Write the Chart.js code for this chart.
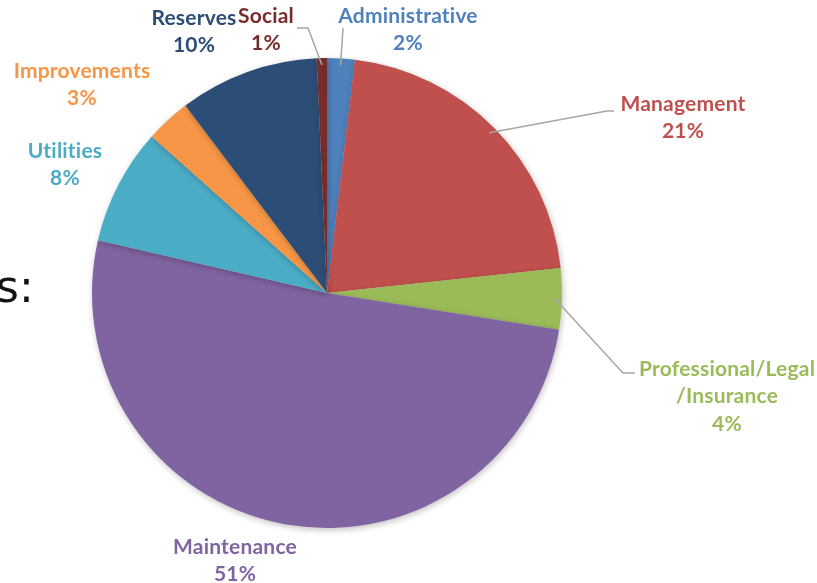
<!DOCTYPE html>
<html>
<head>
<meta charset="utf-8">
<script src="https://cdn.jsdelivr.net/npm/chart.js@4"></script>
<style>
  html, body { margin: 0; padding: 0; background: #fff; overflow: hidden; }
  #wrap { position: relative; width: 817px; height: 583px; }
  #side { position: absolute; left: -4px; top: 261px; font-family: "DejaVu Sans", sans-serif; font-size: 44px; color: #111; }
</style>
</head>
<body>
<div id="wrap">
  <div id="side">s:</div>
  <canvas id="pie" width="817" height="583"></canvas>
</div>
<script>
// chart data
const categories = ["Administrative", "Management", "Professional/Legal\n/Insurance", "Maintenance", "Utilities", "Improvements", "Reserves", "Social"];
const shares = [1.9, 21.4, 4.2, 51.1, 8.0, 3.1, 9.6, 0.7];
const sliceColors = ["#4F81BD", "#C0504D", "#9BBB59", "#8064A2", "#4BACC6", "#F79646", "#2C4D75", "#772C2A"];

// where each label sits (text centre, first line) and its leader elbow, if any
const labelSpots = [
    { x: 408, y: 16, elbow: [343, 28], end: null },
    { x: 683, y: 104, elbow: [607, 111], end: 614 },
    { x: 727, y: 369, elbow: [623, 373], end: 635 },
    { x: 235, y: 547, elbow: null, end: null },
    { x: 65, y: 151, elbow: null, end: null },
    { x: 82, y: 71, elbow: null, end: null },
    { x: 194, y: 18, elbow: null, end: null },
    { x: 266, y: 16, elbow: [308, 28], end: 297 }
];

const outsideLabels = {
    id: "outsideLabels",
    afterDatasetsDraw(chart) {
        const ctx = chart.ctx;
        const arcs = chart.getDatasetMeta(0).data;
        ctx.save();
        arcs.forEach((arc, i) => {
            const spot = labelSpots[i];
            if (spot.elbow) {
                const mid = (arc.startAngle + arc.endAngle) / 2;
                const px = arc.x + Math.cos(mid) * arc.outerRadius * 0.97;
                const py = arc.y + Math.sin(mid) * arc.outerRadius * 0.97;
                ctx.strokeStyle = "#A6A6A6";
                ctx.lineWidth = 1.5;
                ctx.beginPath();
                ctx.moveTo(px, py);
                ctx.lineTo(spot.elbow[0], spot.elbow[1]);
                if (spot.end !== null) ctx.lineTo(spot.end, spot.elbow[1]);
                ctx.stroke();
            }
            const lines = categories[i].split("\n");
            lines.push(Math.round(shares[i]) + "%");
            ctx.fillStyle = sliceColors[i];
            ctx.font = "bold 21px Lato, 'Open Sans', sans-serif";
            ctx.letterSpacing = "0.2px"; // also keeps "ti" from joining
            ctx.textAlign = "center";
            ctx.textBaseline = "middle";
            lines.forEach((t, k) => ctx.fillText(t, spot.x, spot.y + k * 27.5));
        });
        ctx.restore();
    }
};

const softShadow = {
    id: "softShadow",
    beforeDatasetsDraw(chart) {
        const ctx = chart.ctx;
        ctx.save();
        ctx.shadowColor = "rgba(0,0,0,0.25)";
        ctx.shadowBlur = 6;
        ctx.shadowOffsetX = 1;
        ctx.shadowOffsetY = 2;
    },
    afterDatasetsDraw(chart) {
        chart.ctx.restore();
    }
};

new Chart(document.getElementById("pie"), {
    type: "pie",
    data: {
        labels: categories,
        datasets: [{
            data: shares,
            backgroundColor: sliceColors,
            borderWidth: 0
        }]
    },
    options: {
        responsive: false,
        animation: false,
        layout: { padding: { left: 92, right: 255, top: 58, bottom: 55 } },
        plugins: {
            legend: { display: false },
            tooltip: { enabled: false }
        }
    },
    plugins: [softShadow, outsideLabels]
});
</script>
</body>
</html>
